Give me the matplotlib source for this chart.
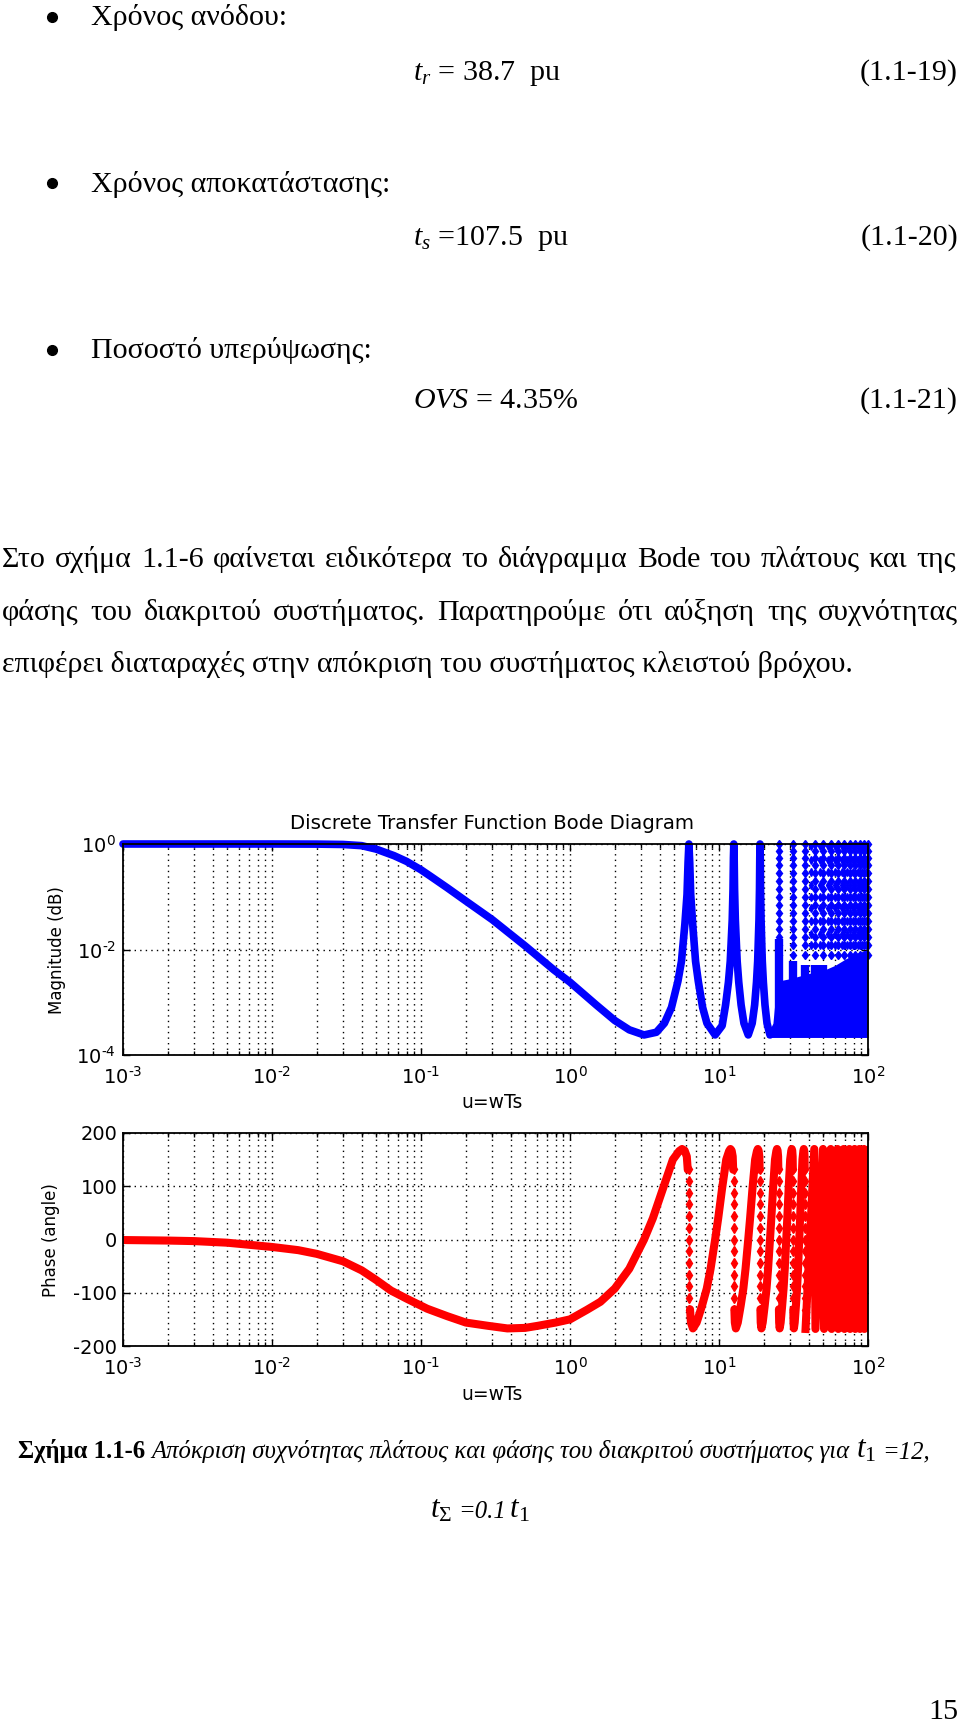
import matplotlib
matplotlib.use('Agg')
import matplotlib.pyplot as plt
from matplotlib.lines import Line2D
from matplotlib.ticker import FixedLocator, FixedFormatter, NullLocator, LogLocator

plt.rcParams['mathtext.fontset'] = 'custom'
plt.rcParams['mathtext.rm'] = 'Liberation Serif'
plt.rcParams['mathtext.it'] = 'Liberation Serif:italic'
plt.rcParams['mathtext.bf'] = 'Liberation Serif:bold'
plt.rcParams['axes.unicode_minus'] = False

W, H = 960, 1723

# ---------------- data ----------------
# magnitude: smooth part and the first three resonances
mag_u = [0.001, 0.005, 0.01, 0.02, 0.03, 0.04, 0.05, 0.066, 0.08, 0.1,
         0.117, 0.15, 0.2, 0.3, 0.5, 0.78, 1.0, 1.5, 2.0, 2.5,
         3.14, 3.8, 4.3, 4.8, 5.3, 5.6, 5.9, 6.1, 6.2, 6.28,
         6.36, 6.46, 6.66, 6.96, 7.26, 7.76, 8.3, 9.42, 10.5, 11.07,
         11.57, 11.9, 12.27, 12.42, 12.5, 12.57, 12.64, 12.72, 12.87, 13.24,
         13.57, 14.07, 14.7, 15.71, 16.7, 17.35, 17.85, 18.18, 18.55, 18.7,
         18.78, 18.85, 18.92, 19.0, 19.15, 19.52, 19.85, 20.35, 21.0, 21.99]
mag_val = [1.0, 1.0, 1.0, 0.995, 0.98, 0.93, 0.8, 0.6, 0.468, 0.324,
           0.24, 0.148, 0.083, 0.037, 0.0117, 0.0041, 0.0024, 8.9e-4, 4.5e-4, 3.0e-4,
           2.4e-4, 2.7e-4, 4.0e-4, 8.0e-4, 2.5e-3, 6e-3, 0.03, 0.11, 0.45, 1.0,
           0.45, 0.11, 0.03, 6e-3, 2.5e-3, 8e-4, 4e-4, 2.4e-4, 3.6e-4, 8.9e-4,
           2.4e-3, 6e-3, 0.037, 0.14, 0.55, 1.0, 0.55, 0.14, 0.037, 6e-3,
           2.4e-3, 8.9e-4, 4e-4, 2.4e-4, 4e-4, 8.9e-4, 2.4e-3, 6e-3, 0.037, 0.14,
           0.55, 1.0, 0.55, 0.14, 0.037, 6e-3, 2.4e-3, 8.9e-4, 4e-4, 2.4e-4]

# magnitude at high u: solid lower band, solid spikes, sparse sample dots
floor_u = [21.0, 23.0, 24.5, 30.0, 40.0, 50.0, 60.0, 70.0, 80.0, 90.0, 100.0]
floor_val = [2.4e-4, 4e-4, 2.5e-3, 2.8e-3, 3.5e-3, 4e-3, 5e-3, 6.5e-3, 8e-3, 9e-3, 1e-2]
spike_u = [25.13, 31.42, 37.70, 43.98, 50.27]
spike_top = [1.6e-2, 6e-3, 5e-3, 5e-3, 5e-3]
dot_u = [25.13, 31.42, 37.70, 43.98, 50.27, 56.55, 62.83, 69.12, 75.40,
         81.68, 87.96, 94.25, 99.5]
dot_levels = [1.0, 0.75, 0.55, 0.4, 0.28, 0.2, 0.14, 0.1, 0.07, 0.05,
              0.035, 0.025, 0.017, 0.012, 0.008]
dot_u2 = [41.3, 47.6, 53.9, 60.2, 66.5, 72.8, 79.1, 85.3, 91.6, 97.0]
dot_levels2 = [0.9, 0.5, 0.3, 0.17, 0.1, 0.06, 0.035, 0.02, 0.012]

# phase: smooth first period
ph_u = [0.001, 0.002, 0.003, 0.005, 0.01, 0.015, 0.02, 0.03, 0.04, 0.05,
        0.063, 0.08, 0.11, 0.15, 0.2, 0.28, 0.38, 0.5, 0.61, 0.8,
        1.0, 1.3, 1.6, 2.0, 2.5, 3.14, 3.6, 4.2, 4.9, 5.4,
        5.65, 5.88, 6.08, 6.17]
ph_val = [-1, -2, -3, -6, -14, -20, -27, -41, -58, -76,
          -96, -111, -130, -144, -156, -162, -167, -166, -162, -156,
          -150, -132, -117, -92, -55, 0, 40, 95, 150, 166,
          170, 167, 156, 131]
# later periods: same band shape starting at each wrap
band_start = [6.28, 12.57, 18.85, 25.13, 31.42]
band_d = [0.11, 0.2, 0.4, 0.8, 1.4, 2.0, 2.5, 3.14, 3.6, 4.2, 4.9, 5.4, 5.65, 5.88, 6.08, 6.17]
band_val = [-131, -156, -167, -156, -125, -92, -55, 0, 40, 95, 150, 166, 170, 167, 156, 131]
wrap_u = [6.25, 12.55, 18.8, 25.1, 31.4, 37.7]
wrap_levels = [132, 110, 88, 66, 44, 22, 0, -22, -44, -66, -88, -110, -132]
# dense region: sawtooth between wraps
saw_u = [38.1, 43.6, 44.4, 49.9, 50.7, 56.2, 57.0, 62.4, 63.2, 68.7, 69.5, 75.0,
         75.8, 81.3, 82.1, 87.6, 88.4, 93.8, 94.6, 100.0]
saw_val = [-168, 170, -168, 170, -168, 170, -168, 170, -168, 170, -168, 170,
           -168, 170, -168, 170, -168, 170, -168, 168]

xtick_vals = [1e-3, 1e-2, 1e-1, 1e0, 1e1, 1e2]
xtick_txt = [r'$\mathregular{10^{‐3}}$', r'$\mathregular{10^{‐2}}$', r'$\mathregular{10^{‐1}}$',
             r'$\mathregular{10^{0}}$', r'$\mathregular{10^{1}}$', r'$\mathregular{10^{2}}$']
mag_ytick_vals = [1e-4, 1e-2, 1e0]
mag_ytick_txt = [r'$\mathregular{10^{‐4}}$', r'$\mathregular{10^{‐2}}$', r'$\mathregular{10^{0}}$']
ph_ytick_vals = [-200, -100, 0, 100, 200]
ph_ytick_txt = ['-200', '-100', '0', '100', '200']

# ---------------- page ----------------
fig = plt.figure(figsize=(W / 100, H / 100), dpi=100)
rend = fig.canvas.get_renderer()
SERIF = 'Liberation Serif'
SANS = 'DejaVu Sans'


def fpos(x, y):
    return x / W, 1 - y / H


def width_of(s, **kw):
    t = fig.text(0, 0, s, **kw)
    w = t.get_window_extent(rend).width
    t.remove()
    return w


def put(x, y, s, **kw):
    fx, fy = fpos(x, y)
    return fig.text(fx, fy, s, va='baseline', **kw)


def runs_width(parts):
    total = 0
    for s, kw in parts:
        if s.strip():
            total += width_of(s, **kw)
        else:
            total += width_of('a a', **kw) - width_of('aa', **kw)
    return total


def runs(x, y, parts, align='left'):
    if align == 'center':
        x -= runs_width(parts) / 2
    for s, kw in parts:
        if s.strip():
            put(x, y, s, **kw)
            x += width_of(s, **kw)
        else:
            x += width_of('a a', **kw) - width_of('aa', **kw)


def justify(line, y, x0, x1, **kw):
    words = line.split()
    ws = [width_of(w, **kw) for w in words]
    gap = (x1 - x0 - sum(ws)) / (len(words) - 1)
    x = x0
    for w, wd in zip(words, ws):
        put(x, y, w, **kw)
        x += wd + gap


par = ['Στο σχήμα 1.1-6 φαίνεται ειδικότερα το διάγραμμα Bode του πλάτους και της',
       'φάσης του διακριτού συστήματος. Παρατηρούμε ότι αύξηση της συχνότητας',
       'επιφέρει διαταραχές στην απόκριση του συστήματος κλειστού βρόχου.']

fs = 20 * 852 / width_of(par[2], family=SERIF, size=20)
body = dict(family=SERIF, size=fs)

# bullets and equations
bullets = [('Χρόνος ανόδου:', 25, 17), ('Χρόνος αποκατάστασης:', 192, 183),
           ('Ποσοστό υπερύψωσης:', 358, 350)]
for txt, yb, yc in bullets:
    fx, fy = fpos(52, yc)
    fig.add_artist(Line2D([fx], [fy], marker='o', markersize=7, color='black',
                          transform=fig.transFigure))
    put(91, yb, txt, **body)

eqs = [(r'$t_r$ = 38.7  pu', '(1.1-19)', 80),
       (r'$t_s$ =107.5  pu', '(1.1-20)', 245),
       (r'$OVS$ = 4.35%', '(1.1-21)', 408)]
for lhs, num, yb in eqs:
    put(413, yb, lhs, **body)
    put(958, yb, num, ha='right', **body)

justify(par[0], 567, 2, 956, **body)
justify(par[1], 620, 2, 958, **body)
put(2, 672, par[2], **body)


# caption, sized to span the same width as in the page
def caption_parts(size):
    bold = dict(family=SERIF, size=size, weight='bold')
    ital = dict(family=SERIF, size=size, style='italic')
    big = dict(family=SERIF, size=size * 1.25)
    cap1 = [('Σχήμα 1.1-6', bold), (' ', ital),
            ('Απόκριση συχνότητας πλάτους και φάσης του διακριτού συστήματος για', ital),
            (' ', ital), (r'$t_{\mathrm{1}}$', big), (' ', ital), ('=12,', ital)]
    cap2 = [(r'$t_{\Sigma}$', big), (' ', ital), ('=0.1', ital), (r'$\,t_{\mathrm{1}}$', big)]
    return cap1, cap2


cap_fs = 16 * 911 / runs_width(caption_parts(16)[0])
cap1, cap2 = caption_parts(cap_fs)
runs(18, 1458, cap1)
runs(480, 1518, cap2, align='center')

put(958, 1719, '15', ha='right', **body)

# ---------------- Bode plots ----------------
L, R = 123, 868
ax1 = fig.add_axes([L / W, 1 - 1055 / H, (R - L) / W, 211 / H])
ax2 = fig.add_axes([L / W, 1 - 1346 / H, (R - L) / W, 213 / H])

tick_fs = 14
for ax in (ax1, ax2):
    ax.set_xscale('log')
    ax.set_xlim(1e-3, 1e2)
    ax.xaxis.set_major_locator(FixedLocator(xtick_vals))
    ax.xaxis.set_major_formatter(FixedFormatter(xtick_txt))
    ax.xaxis.set_minor_locator(LogLocator(base=10, subs=(2, 3, 4, 5, 6, 7, 8, 9), numticks=20))
    ax.grid(True, which='both', axis='x', color='black', linestyle=(0, (1, 3)), linewidth=1.0)
    ax.grid(True, which='major', axis='y', color='black', linestyle=(0, (1, 3)), linewidth=1.0)
    ax.set_axisbelow(True)
    ax.tick_params(which='both', direction='in', top=True, right=True, colors='black')
    ax.tick_params(which='major', length=5, width=1)
    ax.tick_params(which='minor', length=3, width=1)
    ax.tick_params(axis='x', which='major', pad=8)
    for sp in ax.spines.values():
        sp.set_linewidth(1.3)

# magnitude
ax1.set_yscale('log')
ax1.set_ylim(1e-4, 1)
ax1.yaxis.set_major_locator(FixedLocator(mag_ytick_vals))
ax1.yaxis.set_major_formatter(FixedFormatter(mag_ytick_txt))
ax1.yaxis.set_minor_locator(NullLocator())
ax1.tick_params(axis='y', which='major', pad=5)

ax1.fill_between(floor_u, 2.15e-4, floor_val, color='blue', linewidth=0)
ax1.vlines(spike_u, 2.4e-4, spike_top, color='blue', linewidth=6)
for u in dot_u:
    ax1.plot([u] * len(dot_levels), dot_levels, linestyle='none', marker='d',
             markersize=4.5, color='blue', clip_on=False)
for u in dot_u2:
    ax1.plot([u] * len(dot_levels2), dot_levels2, linestyle='none', marker='d',
             markersize=4, color='blue')
ax1.plot(mag_u, mag_val, color='blue', linewidth=5.5, solid_joinstyle='round',
         solid_capstyle='round', clip_on=False)

# phase
ax2.set_ylim(-200, 200)
ax2.yaxis.set_major_locator(FixedLocator(ph_ytick_vals))
ax2.yaxis.set_major_formatter(FixedFormatter(ph_ytick_txt))
ax2.yaxis.set_minor_locator(NullLocator())
ax2.tick_params(axis='y', which='major', pad=4)

ax2.plot(ph_u, ph_val, color='red', linewidth=5.8, solid_joinstyle='round',
         solid_capstyle='round')
for s in band_start:
    ax2.plot([s + d for d in band_d], band_val, color='red', linewidth=5.8,
             solid_joinstyle='round', solid_capstyle='round')
for u in wrap_u:
    ax2.plot([u] * len(wrap_levels), wrap_levels, linestyle='none', marker='d',
             markersize=5, color='red')
ax2.plot(saw_u, saw_val, color='red', linewidth=5.8, solid_joinstyle='round')

for ax in (ax1, ax2):
    for lab in ax.get_xticklabels() + ax.get_yticklabels():
        lab.set_family(SANS)
        lab.set_fontsize(tick_fs)

# chart texts
cx = 492
put(cx, 829, 'Discrete Transfer Function Bode Diagram', ha='center', family=SANS, size=14.2)
fig.text(*fpos(cx, 1103), 'u=wTs', ha='center', va='center', family=SANS, size=13.5)
fig.text(*fpos(cx, 1395), 'u=wTs', ha='center', va='center', family=SANS, size=13.5)
fig.text(*fpos(57, 950), 'Magnitude (dB)', rotation=90, ha='center', va='center',
         family=SANS, size=12)
fig.text(*fpos(51, 1240), 'Phase (angle)', rotation=90, ha='center', va='center',
         family=SANS, size=12)

fig.savefig('out.png', dpi=100)
